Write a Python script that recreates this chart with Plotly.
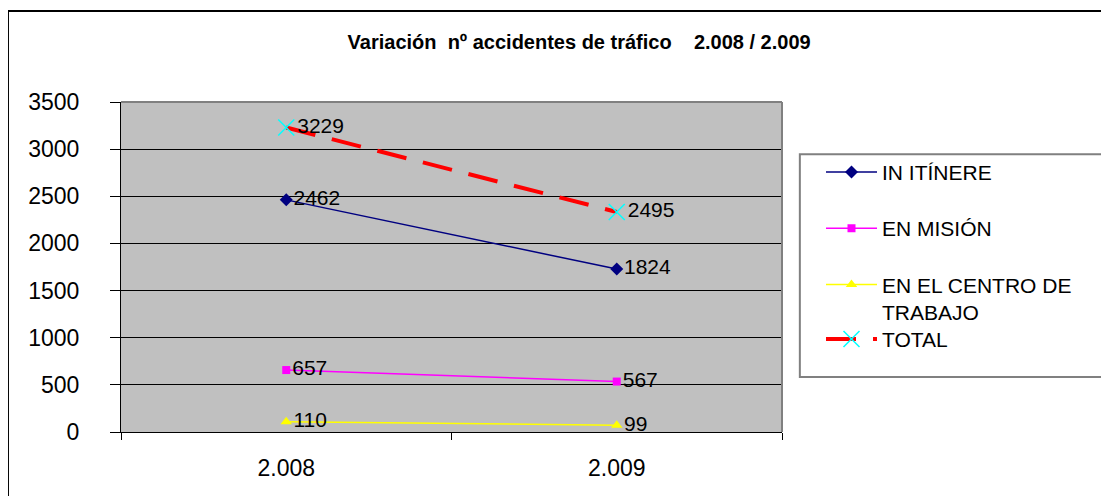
import plotly.graph_objects as go

# categories on the x axis
years = ["2.008", "2.009"]

# plotted values (as drawn in the chart) and the label texts shown next to each point
in_itinere = [2462, 1728]
in_itinere_labels = ["2462", "1824"]

en_mision = [657, 535]
en_mision_labels = ["657", "567"]

en_centro = [110, 71]
en_centro_labels = ["110", "99"]

total = [3229, 2334]
total_labels = ["3229", "2495"]

font_family = "Arial, Liberation Sans, sans-serif"

fig = go.Figure()

# one trace per series, each in its own legend group so tracegroupgap spaces the legend
series = [
    ("IN ITÍNERE", in_itinere, in_itinere_labels, "#000080", dict(symbol="diamond", size=10)),
    ("EN MISIÓN", en_mision, en_mision_labels, "#FF00FF", dict(symbol="square", size=8)),
    ("EN EL CENTRO DE<br>TRABAJO", en_centro, en_centro_labels, "#FFFF00", dict(symbol="triangle-up", size=10)),
]

for name, vals, labels, color, marker in series:
    fig.add_trace(go.Scatter(
        x=years, y=vals, name=name, legendgroup=name, legend="legend",
        mode="lines+markers+text",
        text=labels, textposition="middle right",
        textfont=dict(family=font_family, size=21, color="black"),
        line=dict(color=color, width=1.5),
        marker=dict(color=color, **marker),
    ))

# TOTAL goes in its own legend box so it sits right under the two-line entry
fig.add_trace(go.Scatter(
    x=years, y=total, name="TOTAL", legendgroup="TOTAL", legend="legend2",
    mode="lines+markers+text",
    text=total_labels, textposition="middle right",
    textfont=dict(family=font_family, size=21, color="black"),
    line=dict(color="#FF0000", width=4, dash="30px,17px"),
    marker=dict(symbol="x-thin", size=16, color="#00FFFF", line=dict(color="#00FFFF", width=1.5)),
))

legend_style = dict(
    xanchor="left", yanchor="top",
    font=dict(size=21, family=font_family, color="black"),
    bgcolor="rgba(0,0,0,0)",
    tracegroupgap=26,
    valign="top",
    itemwidth=51,
)

fig.update_layout(
    width=1109, height=496,
    margin=dict(l=113, r=335, t=94, b=72),
    paper_bgcolor="white",
    plot_bgcolor="#C0C0C0",
    font=dict(family=font_family, size=21, color="black"),
    title=dict(
        text="<b>Variación\u00a0\u00a0nº accidentes de tráfico\u00a0\u00a0\u00a0 2.008 / 2.009</b>",
        x=0.515, xref="container", xanchor="center",
        y=0.931, yref="container", yanchor="middle",
        font=dict(size=20, family=font_family, color="black"),
    ),
    legend=dict(x=1.059, y=0.849, **legend_style),
    legend2=dict(x=1.059, y=0.343, **legend_style),
    showlegend=True,
)

fig.update_xaxes(
    type="category", range=[-0.5, 1.5],
    showgrid=False, showline=True, linecolor="black", linewidth=1,
    ticks="outside", tickson="boundaries", ticklen=7, tickcolor="black",
    tickfont=dict(size=23), ticklabelstandoff=15,
)
fig.update_yaxes(
    range=[0, 3500], dtick=500,
    showgrid=True, gridcolor="black", gridwidth=1,
    showline=True, linecolor="black", linewidth=1,
    ticks="outside", ticklen=10, tickcolor="black",
    tickfont=dict(size=23), ticklabelstandoff=26, zeroline=False,
)

# gray border on top/right of plot area, legend box and outer chart frame
fig.add_shape(type="line", xref="paper", yref="paper", x0=0, x1=1, y0=1, y1=1,
              line=dict(color="#808080", width=2))
fig.add_shape(type="line", xref="paper", yref="paper", x0=1, x1=1, y0=0, y1=1,
              line=dict(color="#808080", width=2))
fig.add_shape(type="rect", xref="paper", yref="paper", x0=1.027, x1=1.52, y0=0.1667, y1=0.842,
              line=dict(color="#808080", width=2))
fig.add_shape(type="rect", xref="paper", yref="paper", x0=-0.171, x1=1.56, y0=-0.3, y1=1.276,
              line=dict(color="black", width=2))

fig.write_html("out.html")
